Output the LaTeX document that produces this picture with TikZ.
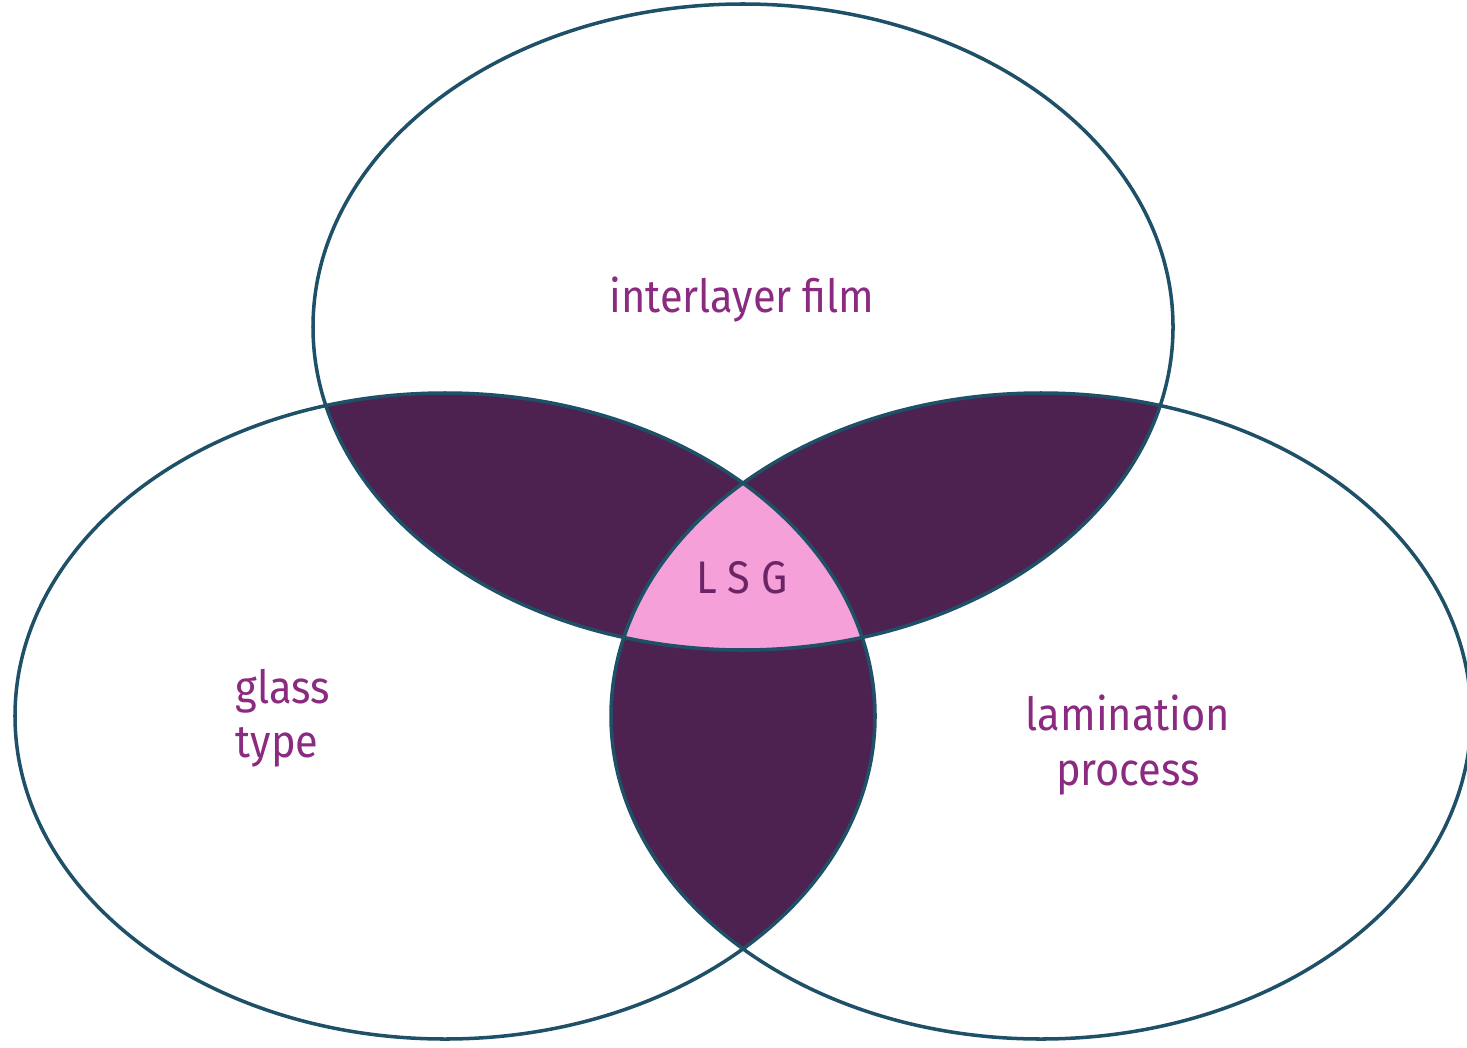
\documentclass[tikz,border=0pt]{standalone}
\usepackage{fontspec}
\setmainfont{Fira Sans}[FakeStretch=0.91]
\usetikzlibrary{positioning}
\definecolor{rimblue}{HTML}{1E5068}
\definecolor{overlap}{HTML}{4D2150}
\definecolor{core}{HTML}{F5A0D8}
\definecolor{labelpurple}{HTML}{8A2A80}
\definecolor{corelabel}{HTML}{6B2566}
\tikzset{
  rim/.style={draw=rimblue, line width=1pt},
  setlabel/.style={text=labelpurple, font=\fontsize{13}{15.5}\selectfont},
  corelbl/.style={text=corelabel, font=\fontsize{13}{15.5}\selectfont}
}

\begin{document}
\begin{tikzpicture}
\useasboundingbox (0,0) rectangle (14.67,10.47);
\coordinate (film) at (7.43,7.20);
\coordinate (glass) at (4.45,3.31);
\coordinate (lam) at (10.41,3.31);
% pairwise overlaps
\begin{scope}
  \clip (film) ellipse (4.30 and 3.23);
  \fill[overlap] (glass) ellipse (4.30 and 3.23);
  \fill[overlap] (lam) ellipse (4.30 and 3.23);
\end{scope}
\begin{scope}
  \clip (glass) ellipse (4.30 and 3.23);
  \fill[overlap] (lam) ellipse (4.30 and 3.23);
\end{scope}
% all three
\begin{scope}
  \clip (film) ellipse (4.30 and 3.23);
  \clip (glass) ellipse (4.30 and 3.23);
  \fill[core] (lam) ellipse (4.30 and 3.23);
\end{scope}
\draw[rim] (film) ellipse (4.30 and 3.23);
\draw[rim] (glass) ellipse (4.30 and 3.23);
\draw[rim] (lam) ellipse (4.30 and 3.23);
\node[setlabel] (filmlbl) at (7.42,7.47) {interlayer film};
\node[setlabel, align=left] (glasslbl) at (2.83,3.29) {glass\\type};
\node[setlabel, align=center] (lamlbl) at (11.28,3.02) {lamination\\process};
\node[corelbl] (lsg) at (7.42,4.69) {L S G};
\end{tikzpicture}
\end{document}
